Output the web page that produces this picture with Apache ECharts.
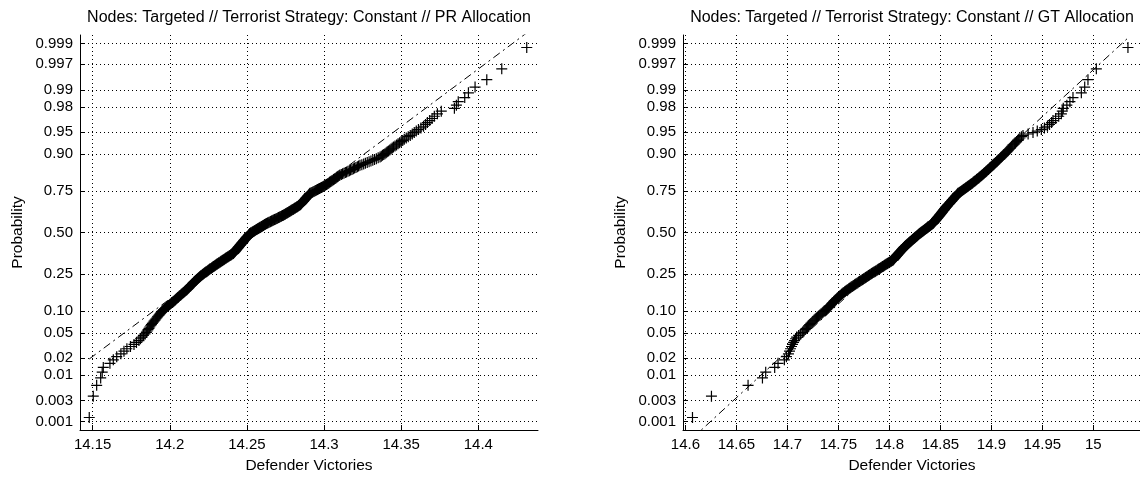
<!DOCTYPE html>
<html>
<head>
<meta charset="utf-8">
<script src="https://cdn.jsdelivr.net/npm/echarts@6/dist/echarts.min.js"></script>
<style>
  html, body { margin: 0; padding: 0; background: #fff; }
  #chart { width: 1140px; height: 477px; }
</style>
</head>
<body>
<div id="chart"></div>
<script>
// Normal probability plots of defender victories for two allocation schemes.
const prTitle = 'Nodes: Targeted // Terrorist Strategy: Constant // PR Allocation';
const gtTitle = 'Nodes: Targeted // Terrorist Strategy: Constant // GT Allocation';
const xName = 'Defender Victories';
const yName = 'Probability';

const probTicks  = [0.001, 0.003, 0.01, 0.02, 0.05, 0.10, 0.25, 0.50, 0.75, 0.90, 0.95, 0.98, 0.99, 0.997, 0.999];
const probLabels = ['0.001', '0.003', '0.01', '0.02', '0.05', '0.10', '0.25', '0.50', '0.75', '0.90', '0.95', '0.98', '0.99', '0.997', '0.999'];

const prTicksX = [14.15, 14.2, 14.25, 14.3, 14.35, 14.4];
const gtTicksX = [14.6, 14.65, 14.7, 14.75, 14.8, 14.85, 14.9, 14.95, 15];
const prRangeX = [14.1418, 14.4387];
const gtRangeX = [14.5976, 15.0467];

// Sorted samples (400 runs each)
const prWins = [
  14.1478, 14.1504, 14.1526, 14.1552, 14.1562, 14.1569, 14.1612, 14.1634, 14.1656, 14.1683,
  14.1703, 14.1722, 14.1745, 14.1768, 14.1784, 14.1800, 14.1810, 14.1820, 14.1829, 14.1839,
  14.1848, 14.1854, 14.1859, 14.1865, 14.1870, 14.1876, 14.1881, 14.1887, 14.1893, 14.1898,
  14.1904, 14.1909, 14.1915, 14.1920, 14.1925, 14.1930, 14.1935, 14.1940, 14.1945, 14.1950,
  14.1955, 14.1960, 14.1966, 14.1973, 14.1979, 14.1985, 14.1992, 14.1998, 14.2004, 14.2010,
  14.2017, 14.2023, 14.2028, 14.2033, 14.2037, 14.2042, 14.2047, 14.2052, 14.2056, 14.2061,
  14.2066, 14.2071, 14.2075, 14.2080, 14.2085, 14.2090, 14.2095, 14.2099, 14.2104, 14.2109,
  14.2112, 14.2116, 14.2119, 14.2123, 14.2126, 14.2130, 14.2133, 14.2137, 14.2140, 14.2144,
  14.2147, 14.2151, 14.2154, 14.2158, 14.2161, 14.2165, 14.2168, 14.2172, 14.2175, 14.2179,
  14.2182, 14.2186, 14.2189, 14.2193, 14.2196, 14.2200, 14.2204, 14.2209, 14.2213, 14.2217,
  14.2221, 14.2225, 14.2229, 14.2233, 14.2238, 14.2242, 14.2246, 14.2250, 14.2254, 14.2258,
  14.2262, 14.2267, 14.2271, 14.2275, 14.2279, 14.2283, 14.2287, 14.2291, 14.2296, 14.2300,
  14.2304, 14.2308, 14.2312, 14.2316, 14.2320, 14.2325, 14.2329, 14.2333, 14.2337, 14.2341,
  14.2345, 14.2349, 14.2354, 14.2358, 14.2362, 14.2366, 14.2370, 14.2374, 14.2379, 14.2383,
  14.2387, 14.2391, 14.2395, 14.2399, 14.2403, 14.2408, 14.2412, 14.2414, 14.2416, 14.2418,
  14.2421, 14.2423, 14.2425, 14.2427, 14.2429, 14.2431, 14.2433, 14.2435, 14.2438, 14.2440,
  14.2442, 14.2444, 14.2446, 14.2448, 14.2450, 14.2452, 14.2455, 14.2457, 14.2459, 14.2461,
  14.2463, 14.2465, 14.2467, 14.2469, 14.2472, 14.2474, 14.2476, 14.2478, 14.2480, 14.2482,
  14.2484, 14.2486, 14.2489, 14.2491, 14.2493, 14.2495, 14.2497, 14.2499, 14.2501, 14.2503,
  14.2506, 14.2508, 14.2510, 14.2512, 14.2514, 14.2516, 14.2518, 14.2520, 14.2524, 14.2528,
  14.2533, 14.2537, 14.2541, 14.2545, 14.2549, 14.2553, 14.2557, 14.2562, 14.2566, 14.2570,
  14.2574, 14.2578, 14.2582, 14.2586, 14.2591, 14.2595, 14.2599, 14.2603, 14.2607, 14.2611,
  14.2615, 14.2620, 14.2624, 14.2628, 14.2633, 14.2638, 14.2643, 14.2649, 14.2654, 14.2659,
  14.2664, 14.2669, 14.2674, 14.2679, 14.2684, 14.2690, 14.2695, 14.2700, 14.2705, 14.2710,
  14.2715, 14.2720, 14.2725, 14.2731, 14.2736, 14.2740, 14.2745, 14.2749, 14.2753, 14.2758,
  14.2762, 14.2766, 14.2771, 14.2775, 14.2779, 14.2784, 14.2788, 14.2792, 14.2797, 14.2801,
  14.2805, 14.2809, 14.2814, 14.2818, 14.2822, 14.2827, 14.2831, 14.2835, 14.2840, 14.2844,
  14.2847, 14.2849, 14.2852, 14.2854, 14.2857, 14.2859, 14.2862, 14.2864, 14.2867, 14.2869,
  14.2872, 14.2874, 14.2877, 14.2879, 14.2882, 14.2884, 14.2887, 14.2889, 14.2892, 14.2894,
  14.2897, 14.2899, 14.2902, 14.2904, 14.2907, 14.2909, 14.2915, 14.2921, 14.2927, 14.2934,
  14.2940, 14.2946, 14.2952, 14.2958, 14.2964, 14.2970, 14.2977, 14.2983, 14.2989, 14.2995,
  14.3000, 14.3005, 14.3010, 14.3016, 14.3021, 14.3026, 14.3031, 14.3036, 14.3041, 14.3046,
  14.3051, 14.3057, 14.3062, 14.3067, 14.3072, 14.3077, 14.3082, 14.3087, 14.3092, 14.3098,
  14.3103, 14.3112, 14.3120, 14.3129, 14.3138, 14.3146, 14.3155, 14.3164, 14.3172, 14.3181,
  14.3190, 14.3198, 14.3207, 14.3216, 14.3224, 14.3233, 14.3245, 14.3257, 14.3268, 14.3280,
  14.3292, 14.3304, 14.3316, 14.3327, 14.3339, 14.3351, 14.3363, 14.3371, 14.3379, 14.3387,
  14.3395, 14.3403, 14.3410, 14.3418, 14.3426, 14.3434, 14.3442, 14.3450, 14.3460, 14.3470,
  14.3480, 14.3490, 14.3500, 14.3510, 14.3520, 14.3533, 14.3546, 14.3559, 14.3572, 14.3585,
  14.3598, 14.3612, 14.3628, 14.3645, 14.3658, 14.3670, 14.3685, 14.3700, 14.3715, 14.3735,
  14.3760, 14.3845, 14.3858, 14.3870, 14.3912, 14.3936, 14.3979, 14.4055, 14.4152, 14.4314
];

const gtWins = [
  14.6069, 14.6255, 14.6614, 14.6755, 14.6787, 14.6875, 14.6908, 14.6970, 14.6990, 14.7010,
  14.7020, 14.7030, 14.7040, 14.7050, 14.7060, 14.7070, 14.7080, 14.7090, 14.7110, 14.7130,
  14.7150, 14.7162, 14.7174, 14.7186, 14.7197, 14.7208, 14.7219, 14.7230, 14.7241, 14.7251,
  14.7262, 14.7273, 14.7284, 14.7295, 14.7306, 14.7317, 14.7328, 14.7339, 14.7349, 14.7360,
  14.7371, 14.7382, 14.7389, 14.7396, 14.7403, 14.7410, 14.7417, 14.7425, 14.7432, 14.7439,
  14.7446, 14.7453, 14.7460, 14.7467, 14.7474, 14.7481, 14.7488, 14.7495, 14.7503, 14.7510,
  14.7517, 14.7524, 14.7531, 14.7538, 14.7545, 14.7553, 14.7561, 14.7569, 14.7577, 14.7585,
  14.7593, 14.7601, 14.7609, 14.7617, 14.7625, 14.7633, 14.7641, 14.7650, 14.7658, 14.7666,
  14.7674, 14.7682, 14.7690, 14.7698, 14.7706, 14.7714, 14.7722, 14.7730, 14.7737, 14.7745,
  14.7752, 14.7760, 14.7767, 14.7774, 14.7782, 14.7789, 14.7796, 14.7804, 14.7811, 14.7819,
  14.7826, 14.7833, 14.7841, 14.7848, 14.7856, 14.7863, 14.7870, 14.7878, 14.7885, 14.7892,
  14.7899, 14.7905, 14.7912, 14.7919, 14.7926, 14.7933, 14.7940, 14.7946, 14.7953, 14.7960,
  14.7967, 14.7974, 14.7980, 14.7987, 14.7994, 14.8001, 14.8008, 14.8015, 14.8021, 14.8028,
  14.8035, 14.8038, 14.8042, 14.8045, 14.8049, 14.8052, 14.8056, 14.8059, 14.8063, 14.8066,
  14.8070, 14.8073, 14.8077, 14.8080, 14.8084, 14.8087, 14.8091, 14.8094, 14.8098, 14.8101,
  14.8105, 14.8108, 14.8112, 14.8115, 14.8119, 14.8122, 14.8126, 14.8129, 14.8133, 14.8136,
  14.8140, 14.8143, 14.8147, 14.8150, 14.8154, 14.8159, 14.8163, 14.8167, 14.8172, 14.8176,
  14.8180, 14.8185, 14.8189, 14.8193, 14.8198, 14.8202, 14.8206, 14.8211, 14.8215, 14.8219,
  14.8223, 14.8228, 14.8232, 14.8236, 14.8241, 14.8245, 14.8249, 14.8254, 14.8258, 14.8262,
  14.8267, 14.8271, 14.8275, 14.8280, 14.8284, 14.8288, 14.8293, 14.8297, 14.8302, 14.8307,
  14.8312, 14.8317, 14.8322, 14.8327, 14.8332, 14.8337, 14.8342, 14.8347, 14.8352, 14.8357,
  14.8362, 14.8367, 14.8372, 14.8377, 14.8382, 14.8387, 14.8392, 14.8397, 14.8402, 14.8407,
  14.8412, 14.8417, 14.8422, 14.8427, 14.8430, 14.8433, 14.8436, 14.8440, 14.8443, 14.8446,
  14.8449, 14.8452, 14.8455, 14.8458, 14.8462, 14.8465, 14.8468, 14.8471, 14.8474, 14.8477,
  14.8480, 14.8484, 14.8487, 14.8490, 14.8493, 14.8496, 14.8499, 14.8502, 14.8506, 14.8509,
  14.8512, 14.8515, 14.8518, 14.8521, 14.8524, 14.8528, 14.8531, 14.8534, 14.8537, 14.8540,
  14.8543, 14.8546, 14.8550, 14.8553, 14.8556, 14.8559, 14.8563, 14.8567, 14.8570, 14.8574,
  14.8578, 14.8582, 14.8586, 14.8590, 14.8593, 14.8597, 14.8601, 14.8605, 14.8609, 14.8613,
  14.8616, 14.8620, 14.8624, 14.8628, 14.8632, 14.8635, 14.8639, 14.8643, 14.8647, 14.8651,
  14.8654, 14.8658, 14.8662, 14.8666, 14.8670, 14.8673, 14.8680, 14.8687, 14.8693, 14.8700,
  14.8707, 14.8714, 14.8720, 14.8727, 14.8734, 14.8741, 14.8747, 14.8754, 14.8761, 14.8768,
  14.8774, 14.8781, 14.8788, 14.8795, 14.8801, 14.8808, 14.8815, 14.8822, 14.8828, 14.8835,
  14.8842, 14.8849, 14.8855, 14.8862, 14.8869, 14.8876, 14.8882, 14.8889, 14.8896, 14.8903,
  14.8909, 14.8916, 14.8923, 14.8929, 14.8936, 14.8943, 14.8950, 14.8956, 14.8963, 14.8970,
  14.8977, 14.8983, 14.8991, 14.8998, 14.9006, 14.9013, 14.9021, 14.9028, 14.9036, 14.9043,
  14.9051, 14.9058, 14.9066, 14.9073, 14.9081, 14.9090, 14.9098, 14.9107, 14.9116, 14.9125,
  14.9133, 14.9142, 14.9151, 14.9160, 14.9168, 14.9177, 14.9186, 14.9195, 14.9203, 14.9212,
  14.9225, 14.9236, 14.9247, 14.9258, 14.9268, 14.9280, 14.9295, 14.9310, 14.9360, 14.9408,
  14.9450, 14.9490, 14.9520, 14.9550, 14.9570, 14.9590, 14.9604, 14.9630, 14.9660, 14.9686,
  14.9695, 14.9705, 14.9740, 14.9770, 14.9800, 14.9882, 14.9915, 14.9947, 15.0029, 15.0339
];

// Inverse standard normal CDF (Acklam's rational approximation)
function norminv(p) {
  const a = [-3.969683028665376e+01, 2.209460984245205e+02, -2.759285104469687e+02,
             1.383577518672690e+02, -3.066479806614716e+01, 2.506628277459239e+00];
  const b = [-5.447609879822406e+01, 1.615858368580409e+02, -1.556989798598866e+02,
             6.680131188771972e+01, -1.328068155288572e+01];
  const c = [-7.784894002430293e-03, -3.223964580411365e-01, -2.400758277161838e+00,
             -2.549732539343734e+00, 4.374664141464968e+00, 2.938163982698783e+00];
  const d = [7.784695709041462e-03, 3.224671290700398e-01, 2.445134137142996e+00,
             3.754408661907416e+00];
  const pl = 0.02425;
  let q, r;
  if (p < pl) {
    q = Math.sqrt(-2 * Math.log(p));
    return (((((c[0]*q + c[1])*q + c[2])*q + c[3])*q + c[4])*q + c[5]) /
           ((((d[0]*q + d[1])*q + d[2])*q + d[3])*q + 1);
  }
  if (p > 1 - pl) {
    q = Math.sqrt(-2 * Math.log(1 - p));
    return -(((((c[0]*q + c[1])*q + c[2])*q + c[3])*q + c[4])*q + c[5]) /
            ((((d[0]*q + d[1])*q + d[2])*q + d[3])*q + 1);
  }
  q = p - 0.5; r = q * q;
  return (((((a[0]*r + a[1])*r + a[2])*r + a[3])*r + a[4])*r + a[5]) * q /
         (((((b[0]*r + b[1])*r + b[2])*r + b[3])*r + b[4])*r + 1);
}

// Plotting positions (i - 0.5) / n on the normal quantile scale
function probPoints(values) {
  const s = values.slice().sort((x, y) => x - y);
  const n = s.length;
  return s.map((v, i) => [v, norminv((i + 0.5) / n)]);
}

function percentile(sorted, q) {
  const n = sorted.length;
  const pos = q * n + 0.5;
  const lo = Math.min(Math.max(Math.floor(pos), 1), n - 1);
  const f = pos - lo;
  return sorted[lo - 1] + f * (sorted[lo] - sorted[lo - 1]);
}

// Reference line through the first and third quartiles, spanning the data range
function refLine(values) {
  const s = values.slice().sort((x, y) => x - y);
  const q1 = percentile(s, 0.25), q3 = percentile(s, 0.75);
  const z1 = norminv(0.25), z3 = norminv(0.75);
  const slope = (z3 - z1) / (q3 - q1);
  const cx = (q1 + q3) / 2, cz = (z1 + z3) / 2;
  const lo = s[0], hi = s[s.length - 1];
  return [[lo, cz + slope * (lo - cx)], [hi, cz + slope * (hi - cx)]];
}

const FONT = '"Liberation Sans", Arial, Helvetica, sans-serif';
const INK = '#000';
const tickZ = probTicks.map(norminv);
const zLim = -norminv(0.25 / prWins.length);

function probLabel(v) {
  let best = 0;
  for (let k = 1; k < tickZ.length; k++) {
    if (Math.abs(tickZ[k] - v) < Math.abs(tickZ[best] - v)) best = k;
  }
  return probLabels[best];
}

const dotted = { color: INK, width: 1, type: [1, 3] };
const plus = 'path://M0,5L10,5M5,0L5,10';

function xAxisFor(idx, range, ticks) {
  return {
    type: 'value', gridIndex: idx, min: range[0], max: range[1],
    axisLine: { show: true, onZero: false, lineStyle: { color: INK, width: 1 } },
    axisTick: { show: true, inside: true, length: 5, customValues: ticks, lineStyle: { color: INK } },
    axisLabel: {
      show: true, customValues: ticks, margin: 7, color: INK, fontSize: 15, fontFamily: FONT,
      formatter: v => String(+(+v).toFixed(4))
    },
    splitLine: { show: true, lineStyle: dotted },
    name: xName, nameLocation: 'middle', nameGap: 28,
    nameTextStyle: { color: INK, fontSize: 15.5, fontFamily: FONT }
  };
}

function yAxisFor(idx) {
  return {
    type: 'value', gridIndex: idx, min: -zLim, max: zLim,
    axisLine: { show: true, onZero: false, lineStyle: { color: INK, width: 1 } },
    axisTick: { show: true, inside: true, length: 5, customValues: tickZ, lineStyle: { color: INK } },
    axisLabel: {
      show: true, customValues: tickZ, margin: 7, color: INK, fontSize: 15, fontFamily: FONT,
      formatter: probLabel
    },
    splitLine: { show: true, lineStyle: dotted },
    name: yName, nameLocation: 'middle', nameGap: 54,
    nameTextStyle: { color: INK, fontSize: 15.5, fontFamily: FONT }
  };
}

function seriesFor(idx, values) {
  return [
    {
      type: 'line', xAxisIndex: idx, yAxisIndex: idx, data: refLine(values),
      symbol: 'none', clip: true, silent: true, z: 2,
      lineStyle: { color: INK, width: 1, type: [8, 4, 2, 4] }
    },
    {
      type: 'scatter', xAxisIndex: idx, yAxisIndex: idx, data: probPoints(values),
      symbol: plus, symbolSize: 11, silent: true, z: 3,
      itemStyle: { color: 'none', borderColor: INK, borderWidth: 1.2, opacity: 1 }
    }
  ];
}

const chart = echarts.init(document.getElementById('chart'), null, { renderer: 'canvas' });
chart.setOption({
  animation: false,
  backgroundColor: '#fff',
  grid: [
    { left: 80, top: 35, width: 458, height: 395, containLabel: false, outerBoundsMode: 'none' },
    { left: 683, top: 35, width: 458, height: 395, containLabel: false, outerBoundsMode: 'none' }
  ],
  xAxis: [xAxisFor(0, prRangeX, prTicksX), xAxisFor(1, gtRangeX, gtTicksX)],
  yAxis: [yAxisFor(0), yAxisFor(1)],
  series: [...seriesFor(0, prWins), ...seriesFor(1, gtWins)],
  graphic: [
    { type: 'text', x: 309, y: 18, silent: true,
      style: { text: prTitle, fill: INK, font: '16px ' + FONT, align: 'center', verticalAlign: 'middle' } },
    { type: 'text', x: 912, y: 18, silent: true,
      style: { text: gtTitle, fill: INK, font: '16px ' + FONT, align: 'center', verticalAlign: 'middle' } }
  ]
});
</script>
</body>
</html>
